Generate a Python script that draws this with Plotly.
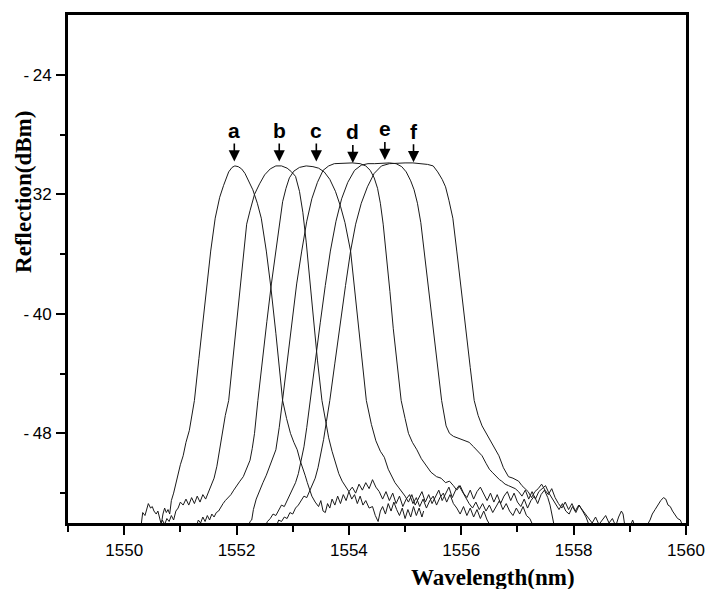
import plotly.graph_objects as go

# ---------------- data ----------------
a_wl = [1550.30, 1550.33, 1550.37, 1550.40, 1550.43, 1550.47, 1550.50, 1550.53, 1550.57, 1550.60,
        1550.63, 1550.66, 1550.69, 1550.72, 1550.75, 1550.78, 1550.81, 1550.84, 1550.88, 1550.92,
        1550.96, 1551.00, 1551.05, 1551.10, 1551.16, 1551.21, 1551.25, 1551.33, 1551.40, 1551.47,
        1551.54, 1551.62, 1551.70, 1551.77, 1551.86, 1551.92, 1551.97, 1552.03, 1552.09, 1552.15,
        1552.22, 1552.29, 1552.37, 1552.44, 1552.53, 1552.61, 1552.70, 1552.76, 1552.82, 1552.89,
        1552.96, 1553.02, 1553.08, 1553.13, 1553.17, 1553.22, 1553.26, 1553.30, 1553.34, 1553.40,
        1553.46, 1553.50, 1553.54, 1553.58, 1553.62, 1553.66, 1553.70, 1553.75, 1553.80, 1553.85,
        1553.90, 1553.95, 1554.00, 1554.05, 1554.10, 1554.15, 1554.20, 1554.25, 1554.30, 1554.36,
        1554.42, 1554.47, 1554.52, 1554.56, 1554.60, 1554.65, 1554.70, 1554.75, 1554.80, 1554.85,
        1554.90, 1554.95, 1555.00, 1555.05, 1555.10, 1555.15, 1555.20, 1555.25, 1555.30, 1555.33]
a_db = [-54.2, -53.3, -53.5, -53.0, -52.7, -53.0, -52.9, -53.2, -53.4, -53.2,
        -53.6, -54.1, -53.4, -53.0, -53.3, -53.1, -53.4, -52.5, -52.0, -51.3,
        -50.8, -50.1, -49.5, -48.6, -47.8, -46.6, -45.8, -43.0, -40.5, -37.9,
        -35.8, -33.6, -32.2, -31.4, -30.5, -30.2, -30.1, -30.15, -30.3, -30.6,
        -31.1, -31.7, -32.6, -33.6, -35.8, -38.2, -41.3, -43.6, -45.8, -47.0,
        -48.0, -48.6, -49.1, -49.8, -50.2, -50.8, -51.3, -51.8, -52.2, -52.6,
        -52.9, -52.5, -53.2, -53.3, -52.7, -53.0, -52.4, -52.8, -52.2, -52.7,
        -52.1, -52.5, -51.9, -52.4, -52.1, -52.7, -52.2, -52.8, -52.5, -53.0,
        -52.9, -53.5, -53.9, -53.2, -52.9, -53.4, -52.7, -53.2, -52.6, -53.1,
        -53.5, -53.0, -53.7, -53.1, -53.6, -52.9, -53.5, -53.0, -53.6, -53.2]

b_wl = [1550.63, 1550.68, 1550.72, 1550.76, 1550.80, 1550.84, 1550.88, 1550.92, 1550.96, 1551.00,
        1551.05, 1551.10, 1551.15, 1551.20, 1551.25, 1551.30, 1551.35, 1551.40, 1551.45, 1551.50,
        1551.55, 1551.60, 1551.65, 1551.70, 1551.75, 1551.80, 1551.86, 1551.93, 1552.00, 1552.06,
        1552.12, 1552.18, 1552.24, 1552.32, 1552.41, 1552.50, 1552.60, 1552.70, 1552.80, 1552.90,
        1552.98, 1553.05, 1553.12, 1553.18, 1553.24, 1553.30, 1553.37, 1553.44, 1553.52, 1553.58,
        1553.64, 1553.70, 1553.76, 1553.82, 1553.88, 1553.94, 1554.00, 1554.06, 1554.12, 1554.18,
        1554.24, 1554.30, 1554.36, 1554.42, 1554.48, 1554.54, 1554.60, 1554.66, 1554.72, 1554.78,
        1554.84, 1554.90, 1554.96, 1555.02, 1555.08, 1555.14, 1555.20, 1555.26, 1555.32, 1555.38,
        1555.44, 1555.50, 1555.56, 1555.62, 1555.68, 1555.74, 1555.80, 1555.86, 1555.92, 1555.98,
        1556.04, 1556.10, 1556.16, 1556.22, 1556.28, 1556.34, 1556.40, 1556.46, 1556.52]
b_db = [-54.3, -53.8, -54.1, -53.7, -53.9, -53.5, -53.8, -53.2, -53.0, -52.6,
        -52.8, -52.4, -52.8, -52.3, -52.7, -52.2, -52.6, -52.1, -52.4, -51.9,
        -51.5, -51.0, -50.2, -49.0, -47.9, -46.8, -45.8, -43.2, -40.5, -38.0,
        -35.8, -34.0, -33.1, -32.0, -31.3, -30.7, -30.3, -30.1, -30.1, -30.25,
        -30.5, -30.8, -31.8, -33.2, -35.2, -37.6, -40.4, -43.1, -45.8, -47.2,
        -48.3, -49.2, -50.0, -50.7, -51.2, -51.6, -51.9, -51.6, -52.0, -51.4,
        -51.8, -51.3, -51.7, -51.1, -51.6, -51.9, -52.4, -51.9, -52.5, -52.0,
        -52.7, -52.2, -52.9, -52.4, -52.1, -52.7, -52.3, -52.9, -52.4, -53.0,
        -52.5, -52.2, -52.8, -52.3, -52.0, -52.6, -52.1, -52.7, -53.0, -53.4,
        -52.9, -53.5, -53.0, -53.6, -53.1, -53.7, -53.2, -53.8, -54.2]

c_wl = [1551.28, 1551.32, 1551.36, 1551.40, 1551.44, 1551.48, 1551.52, 1551.56, 1551.60, 1551.64,
        1551.68, 1551.72, 1551.76, 1551.80, 1551.85, 1551.90, 1551.95, 1552.00, 1552.06, 1552.12,
        1552.18, 1552.24, 1552.28, 1552.32, 1552.38, 1552.46, 1552.54, 1552.62, 1552.70, 1552.76,
        1552.82, 1552.88, 1552.94, 1553.02, 1553.12, 1553.24, 1553.36, 1553.46, 1553.56, 1553.66,
        1553.76, 1553.85, 1553.93, 1554.03, 1554.10, 1554.17, 1554.24, 1554.31, 1554.40, 1554.48,
        1554.56, 1554.63, 1554.70, 1554.76, 1554.82, 1554.88, 1554.94, 1555.00, 1555.06, 1555.12,
        1555.18, 1555.24, 1555.30, 1555.36, 1555.42, 1555.48, 1555.54, 1555.60, 1555.66, 1555.72,
        1555.78, 1555.84, 1555.90, 1555.96, 1556.02, 1556.08, 1556.14, 1556.20, 1556.26, 1556.32,
        1556.38, 1556.44, 1556.50, 1556.56, 1556.62, 1556.68, 1556.74, 1556.80, 1556.86, 1556.92,
        1556.98, 1557.04, 1557.10, 1557.16, 1557.22, 1557.28]
c_db = [-54.3, -53.8, -54.0, -53.6, -53.9, -53.5, -53.8, -53.4, -53.6, -53.3,
        -53.2, -52.9, -52.7, -52.5, -52.3, -52.1, -51.8, -51.5, -51.2, -50.9,
        -50.4, -49.8, -49.0, -48.0, -45.8, -43.0, -40.5, -38.0, -35.8, -33.8,
        -32.5, -31.6, -30.9, -30.45, -30.2, -30.1, -30.15, -30.25, -30.5, -31.0,
        -31.8, -32.8, -33.9, -35.8, -38.3, -41.0, -43.5, -45.8, -47.4, -48.5,
        -49.2, -49.6, -50.4, -50.9, -51.3, -51.6, -51.9, -52.2, -52.6, -52.1,
        -52.8, -52.3, -51.9, -52.6, -52.1, -52.7, -52.2, -51.8, -52.5, -52.0,
        -51.6, -52.3, -51.8, -51.5, -51.9, -52.4, -52.7, -53.0, -52.6, -53.1,
        -52.7, -53.2, -52.8, -53.3, -52.9, -52.5, -53.1, -52.7, -53.2, -53.5,
        -53.0, -53.4, -52.9, -53.5, -53.7, -54.2]

d_wl = [1552.20, 1552.24, 1552.27, 1552.30, 1552.35, 1552.41, 1552.47, 1552.53, 1552.59, 1552.65,
        1552.70, 1552.76, 1552.82, 1552.90, 1552.99, 1553.07, 1553.16, 1553.25, 1553.34, 1553.44,
        1553.54, 1553.64, 1553.74, 1553.90, 1554.06, 1554.20, 1554.30, 1554.38, 1554.45, 1554.51,
        1554.56, 1554.61, 1554.66, 1554.73, 1554.79, 1554.86, 1554.93, 1555.00, 1555.06, 1555.13,
        1555.21, 1555.29, 1555.38, 1555.46, 1555.56, 1555.64, 1555.72, 1555.79, 1555.86, 1555.92,
        1555.98, 1556.04, 1556.10, 1556.16, 1556.22, 1556.28, 1556.34, 1556.40, 1556.46, 1556.52,
        1556.58, 1556.64, 1556.70, 1556.76, 1556.82, 1556.88, 1556.94, 1557.00, 1557.06, 1557.12,
        1557.18, 1557.24, 1557.30, 1557.36, 1557.42, 1557.48, 1557.54, 1557.58, 1557.62, 1557.66]
d_db = [-54.4, -53.9, -53.8, -53.1, -52.4, -51.8, -51.3, -50.8, -50.2, -49.7,
        -49.1, -47.6, -45.8, -43.0, -40.5, -38.0, -35.8, -33.8, -32.3, -31.2,
        -30.4, -30.1, -29.95, -29.9, -29.9, -29.95, -30.1, -30.4, -30.9, -31.6,
        -32.6, -34.0, -35.8, -38.5, -41.0, -43.5, -45.8, -47.0, -48.0, -48.6,
        -49.1, -49.7, -50.2, -50.6, -50.9, -51.0, -51.3, -51.2, -51.5, -51.8,
        -51.5, -52.0, -52.3, -51.8, -52.4, -51.9, -51.6, -52.1, -52.5, -52.0,
        -52.6, -52.1, -52.7, -52.2, -51.9, -52.5, -52.0, -52.6, -52.9, -52.4,
        -53.0, -52.5, -52.2, -52.7, -52.1, -51.8, -52.3, -52.8, -53.5, -54.3]

e_wl = [1552.50, 1552.55, 1552.60, 1552.65, 1552.70, 1552.75, 1552.80, 1552.85, 1552.90, 1552.95,
        1553.00, 1553.05, 1553.10, 1553.15, 1553.20, 1553.25, 1553.31, 1553.40, 1553.49, 1553.58,
        1553.67, 1553.77, 1553.87, 1553.98, 1554.10, 1554.22, 1554.34, 1554.46, 1554.60, 1554.72,
        1554.84, 1554.94, 1555.02, 1555.10, 1555.16, 1555.22, 1555.28, 1555.34, 1555.42, 1555.50,
        1555.58, 1555.65, 1555.73, 1555.79, 1555.86, 1555.93, 1556.00, 1556.07, 1556.14, 1556.22,
        1556.30, 1556.37, 1556.44, 1556.50, 1556.55, 1556.62, 1556.68, 1556.72, 1556.78, 1556.84,
        1556.90, 1556.96, 1557.02, 1557.08, 1557.14, 1557.20, 1557.26, 1557.32, 1557.38, 1557.44,
        1557.50, 1557.56, 1557.62, 1557.68, 1557.74, 1557.80, 1557.86, 1557.92, 1557.98, 1558.04,
        1558.10, 1558.16, 1558.22, 1558.28]
e_db = [-54.3, -53.9, -53.7, -53.4, -53.5, -53.1, -52.8, -52.9, -52.5, -52.2,
        -51.8, -51.3, -50.7, -49.9, -48.9, -47.6, -45.8, -43.2, -40.6, -38.1,
        -35.8, -33.8, -32.3, -31.2, -30.4, -30.05, -29.95, -29.95, -29.9, -29.9,
        -29.95, -30.15, -30.5, -31.1, -31.7, -32.6, -33.9, -35.8, -38.6, -41.2,
        -43.6, -45.8, -47.5, -48.0, -48.2, -48.3, -48.4, -48.5, -48.6, -48.9,
        -49.2, -49.5, -50.0, -50.4, -50.6, -50.9, -51.1, -51.2, -51.4, -51.5,
        -51.6, -51.7, -51.9, -52.2, -51.8, -52.4, -51.9, -52.4, -51.9, -51.7,
        -51.5, -52.0, -52.4, -52.8, -53.1, -52.7, -53.2, -53.4, -52.9, -53.3,
        -52.8, -53.2, -53.6, -54.2]

f_wl = [1552.70, 1552.75, 1552.80, 1552.85, 1552.90, 1552.95, 1553.00, 1553.05, 1553.10, 1553.15,
        1553.20, 1553.25, 1553.30, 1553.35, 1553.40, 1553.45, 1553.50, 1553.55, 1553.60, 1553.66,
        1553.75, 1553.84, 1553.94, 1554.03, 1554.12, 1554.22, 1554.33, 1554.45, 1554.58, 1554.72,
        1554.86, 1555.00, 1555.14, 1555.28, 1555.40, 1555.50, 1555.58, 1555.66, 1555.72, 1555.78,
        1555.85, 1555.92, 1556.00, 1556.08, 1556.16, 1556.23, 1556.30, 1556.37, 1556.46, 1556.55,
        1556.61, 1556.67, 1556.75, 1556.84, 1556.92, 1557.02, 1557.08, 1557.13, 1557.19, 1557.25,
        1557.31, 1557.37, 1557.43, 1557.49, 1557.55, 1557.61, 1557.67, 1557.73, 1557.79, 1557.85,
        1557.91, 1557.97, 1558.03, 1558.09, 1558.15, 1558.21, 1558.27, 1558.33, 1558.39, 1558.45,
        1558.51, 1558.57, 1558.63, 1558.69, 1558.75, 1558.80, 1558.85, 1558.88, 1558.92, 1559.00,
        1559.05, 1559.09, 1559.20, 1559.30, 1559.36, 1559.40, 1559.45, 1559.50, 1559.55, 1559.60,
        1559.64, 1559.68, 1559.72, 1559.76, 1559.80, 1559.85, 1559.90, 1559.95, 1560.00]
f_db = [-54.3, -53.8, -53.9, -53.6, -53.7, -53.3, -53.4, -53.0, -52.8, -52.5,
        -52.2, -52.3, -51.9, -51.5, -51.0, -50.3, -49.4, -48.4, -47.2, -45.8,
        -43.3, -40.7, -38.1, -35.8, -34.0, -32.6, -31.5, -30.6, -30.1, -29.95,
        -29.9, -29.9, -29.9, -29.95, -30.0, -30.1, -30.5, -31.0, -31.5, -32.4,
        -33.6, -35.8, -38.5, -41.2, -43.6, -45.8, -46.8, -47.5, -48.1, -48.6,
        -49.0, -49.5, -50.3, -50.9, -51.0, -51.2, -51.5, -51.7, -51.9, -52.3,
        -51.9, -51.7, -51.4, -51.8, -52.1, -51.7, -52.3, -52.7, -53.0, -52.6,
        -53.1, -52.7, -53.2, -52.8, -53.1, -53.4, -53.7, -54.0, -53.6, -54.1,
        -53.8, -53.5, -54.0, -53.7, -54.2, -53.6, -53.2, -53.4, -54.4, -54.3,
        -53.8, -54.2, -54.4, -54.2, -53.8, -53.4, -53.1, -52.8, -52.5, -52.3,
        -52.4, -52.8, -52.9, -53.2, -53.4, -53.7, -53.8, -54.3, -54.5]

curve_labels = ["a", "b", "c", "d", "e", "f"]
arrow_wl = [1551.96, 1552.76, 1553.42, 1554.07, 1554.64, 1555.15]
arrow_tip_db = [-29.8, -29.8, -29.8, -29.9, -29.7, -29.85]

x_tickvals = [1550, 1552, 1554, 1556, 1558, 1560]
x_ticktext = ["1550", "1552", "1554", "1556", "1558", "1560"]
x_minor = [1549, 1551, 1553, 1555, 1557, 1559]
y_tickvals = [-24, -32, -40, -48]
y_ticktext = ["-\u200924", "32", "-\u200940", "-\u200948"]
y_minor = [-28, -36, -44, -52]

# ---------------- figure ----------------
fig = go.Figure()
for wl, db in [(a_wl, a_db), (b_wl, b_db), (c_wl, c_db), (d_wl, d_db), (e_wl, e_db), (f_wl, f_db)]:
    fig.add_trace(go.Scatter(x=wl, y=db, mode="lines",
                             line=dict(color="#1a1a1a", width=1),
                             showlegend=False, hoverinfo="skip"))

tick_font = dict(family="Liberation Sans, Arial", size=17, color="black")

for lab, xw, yt in zip(curve_labels, arrow_wl, arrow_tip_db):
    fig.add_annotation(x=xw, y=yt, xref="x", yref="y", text="<b>" + lab + "</b>",
                       showarrow=True, arrowhead=2, arrowsize=1.4, arrowwidth=1.6,
                       arrowcolor="black", ax=0, ay=-31, standoff=0,
                       font=dict(family="Liberation Sans, Arial", size=21, color="black"))

fig.add_annotation(x=0.687, y=-0.107, xref="paper", yref="paper", text="<b>Wavelength(nm)</b>",
                   showarrow=False, xanchor="center", yanchor="middle",
                   font=dict(family="Liberation Serif, Times New Roman, serif", size=23, color="black"))
fig.add_annotation(x=-0.071, y=0.652, xref="paper", yref="paper", text="<b>Reflection(dBm)</b>",
                   showarrow=False, xanchor="center", yanchor="middle", textangle=-90,
                   font=dict(family="Liberation Serif, Times New Roman, serif", size=23, color="black"))

fig.update_layout(
    width=717, height=589,
    margin=dict(l=68, r=20, t=13, b=66),
    paper_bgcolor="white", plot_bgcolor="white",
    xaxis=dict(range=[1549, 1560], showgrid=False, zeroline=False,
               showline=True, linewidth=3, linecolor="black", mirror=True,
               ticks="outside", ticklen=9, tickwidth=2, tickcolor="black",
               tickmode="array", tickvals=x_tickvals, ticktext=x_ticktext,
               tickfont=tick_font, ticklabelstandoff=1,
               minor=dict(tickmode="array", tickvals=x_minor, ticks="outside",
                          ticklen=6, tickwidth=2, tickcolor="black", showgrid=False)),
    yaxis=dict(range=[-54, -20], showgrid=False, zeroline=False,
               showline=True, linewidth=3, linecolor="black", mirror=True,
               ticks="outside", ticklen=9, tickwidth=2, tickcolor="black",
               tickmode="array", tickvals=y_tickvals, ticktext=y_ticktext,
               tickfont=tick_font, ticklabelstandoff=1,
               minor=dict(tickmode="array", tickvals=y_minor, ticks="outside",
                          ticklen=5, tickwidth=2, tickcolor="black", showgrid=False)),
)

fig.write_html("out.html")
